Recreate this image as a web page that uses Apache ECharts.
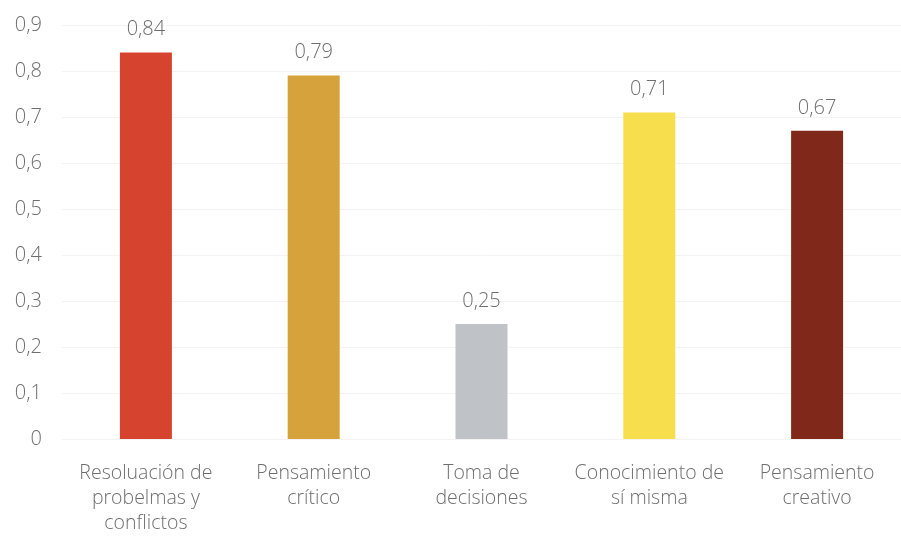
<!DOCTYPE html>
<html>
<head>
<meta charset="utf-8">
<script src="https://cdn.jsdelivr.net/npm/echarts@6/dist/echarts.min.js"></script>
<style>
  html, body { margin: 0; padding: 0; background: #ffffff; }
  #chart { width: 901px; height: 536px; }
</style>
</head>
<body>
<div id="chart"></div>
<script>
// Competency categories and their scores
var categories = [
  'Resoluación de\nprobelmas y\nconflictos',
  'Pensamiento\ncrítico',
  'Toma de\ndecisiones',
  'Conocimiento de\nsí misma',
  'Pensamiento\ncreativo'
];
var scores = [0.84, 0.79, 0.25, 0.71, 0.67];
var barColors = ['#d6442f', '#d6a23b', '#bfc2c7', '#f6de4c', '#80291a'];
var yTicks = { min: 0, max: 0.9, step: 0.1 };

function comma(v) {
  return String(Math.round(v * 100) / 100).replace('.', ',');
}

var textColor = '#6e6e6e';
var chart = echarts.init(document.getElementById('chart'), null, { renderer: 'canvas' });

chart.setOption({
  backgroundColor: '#ffffff',
  animation: false,
  grid: { left: 62, right: -2, top: 25, bottom: 97, containLabel: false },
  xAxis: {
    type: 'category',
    data: categories,
    axisLine: { show: false },
    axisTick: { show: false },
    axisLabel: {
      interval: 0,
      margin: 22,
      color: textColor,
      fontFamily: 'Open Sans',
      fontWeight: 300,
      fontSize: 19.5,
      lineHeight: 25
    }
  },
  yAxis: {
    type: 'value',
    min: yTicks.min,
    max: yTicks.max,
    interval: yTicks.step,
    axisLine: { show: false },
    axisTick: { show: false },
    splitLine: { show: true, lineStyle: { color: '#f3f3f3', width: 1 } },
    axisLabel: {
      margin: 20,
      color: textColor,
      fontFamily: 'Open Sans',
      fontWeight: 300,
      fontSize: 20,
      formatter: function (v) { return v === 0 ? '0' : comma(v); }
    }
  },
  series: [{
    type: 'bar',
    data: scores.map(function (v, i) {
      return { value: v, itemStyle: { color: barColors[i] } };
    }),
    barWidth: 52,
    label: {
      show: true,
      position: 'top',
      distance: 13,
      color: textColor,
      fontFamily: 'Open Sans',
      fontWeight: 300,
      fontSize: 20,
      formatter: function (p) { return comma(p.value); }
    }
  }]
});
</script>
</body>
</html>
